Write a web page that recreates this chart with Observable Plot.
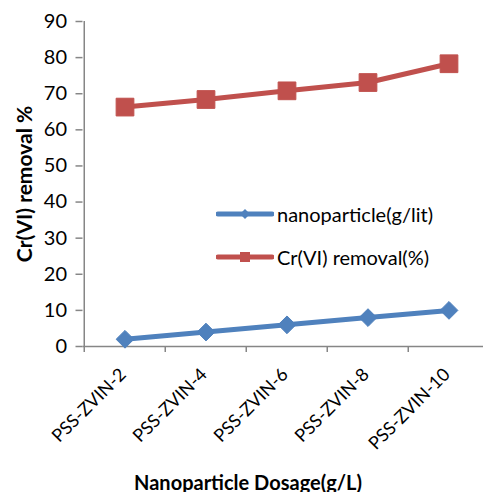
<!DOCTYPE html>
<html><head><meta charset="utf-8">
<script src="https://cdn.jsdelivr.net/npm/d3@7"></script>
<script src="https://cdn.jsdelivr.net/npm/@observablehq/plot@0.6"></script>
<style>
body{margin:0;background:#fff;font-family:Lato,"Open Sans",sans-serif;}
#wrap{position:relative;width:483px;height:492px;overflow:hidden;}
#legend{position:absolute;left:216px;top:192px;font-size:20px;color:#000;}
#legend div{display:flex;align-items:center;height:43px;}
#legend svg{margin-right:3px;}
</style></head>
<body><div id="wrap"><div id="legend"></div></div>
<script>
const categories = ["PSS-ZVIN-2","PSS-ZVIN-4","PSS-ZVIN-6","PSS-ZVIN-8","PSS-ZVIN-10"];
const nanoparticle = [2, 4, 6, 8, 10];
const crRemoval = [66.3, 68.4, 70.8, 73.1, 78.3];
const yTicks = [0,10,20,30,40,50,60,70,80,90];
const seriesNames = ["nanoparticle(g/lit)", "Cr(VI) removal(%)"];
const colors = ["#4F81BD", "#C0504D"];

const blue = categories.map((c,i)=>({cat:c, v:nanoparticle[i]}));
const red = categories.map((c,i)=>({cat:c, v:crRemoval[i]}));
const xRange = [82.5, 490];
const bw = (xRange[1]-xRange[0])/categories.length;
const font = "Lato, 'Open Sans', sans-serif";

const chart = Plot.plot({
  width: 483, height: 492,
  marginLeft: 82.5, marginTop: 21, marginBottom: 146, marginRight: 0,
  style: {fontFamily: font, fontSize: "20px", color: "#000", background: "#fff"},
  x: {type: "band", domain: categories, range: xRange, padding: 0},
  y: {domain: [0, 90], range: [346, 21]},
  marks: [
    Plot.ruleY([0], {stroke: "#868686", strokeWidth: 1.5}),
    Plot.ruleX([categories[0]], {x: d=>d, y1: 0, y2: 90, dx: -bw/2, stroke: "#868686", strokeWidth: 1.5}),
    Plot.ruleX(categories, {x: d=>d, y1: 0, y2: 0, insetBottom: -6, dx: -bw/2, stroke: "#868686", strokeWidth: 1.5}),
    Plot.axisY({ticks: yTicks, tickSize: 7, tickPadding: 9, stroke: "#868686", strokeWidth: 1.5, label: null, fontSize: 20, fill: "#000"}),
    Plot.axisX({tickSize: 0, tickRotate: -45, tickPadding: 25, label: null, fontSize: 18, fill: "#000", dx: -2}),
    Plot.text(["Cr(VI) removal %"], {frameAnchor: "left", textAnchor: "middle", dx: -58, rotate: -90, fontWeight: "bold", fontSize: 21, y: 45}),
    Plot.text(["Nanoparticle Dosage(g/L)"], {frameAnchor: "bottom", x: () => categories[2], dx: -39, dy: 143, fontWeight: "bold", fontSize: 20}),
    Plot.line(red, {x: "cat", y: "v", stroke: colors[1], strokeWidth: 5}),
    Plot.dot(red, {x: "cat", y: "v", symbol: "square", r: 10, fill: colors[1], stroke: colors[1], strokeWidth: 1}),
    Plot.line(blue, {x: "cat", y: "v", stroke: colors[0], strokeWidth: 5}),
    Plot.dot(blue, {x: "cat", y: "v", symbol: "diamond2", r: 8, fill: colors[0], stroke: colors[0], strokeWidth: 1})
  ]
});
document.getElementById("wrap").prepend(chart);

const legend = document.getElementById("legend");
seriesNames.forEach((name, i) => {
  const row = document.createElement("div");
  const marker = i === 0
    ? `<polygon points="29,3 34,8 29,13 24,8" fill="${colors[0]}"/>`
    : `<rect x="24" y="3" width="10" height="10" fill="${colors[1]}"/>`;
  row.innerHTML = `<svg width="58" height="16"><line x1="2" x2="56" y1="8" y2="8" stroke="${colors[i]}" stroke-width="5" stroke-linecap="round"/>${marker}</svg><span>${name}</span>`;
  legend.appendChild(row);
});
</script></body></html>
